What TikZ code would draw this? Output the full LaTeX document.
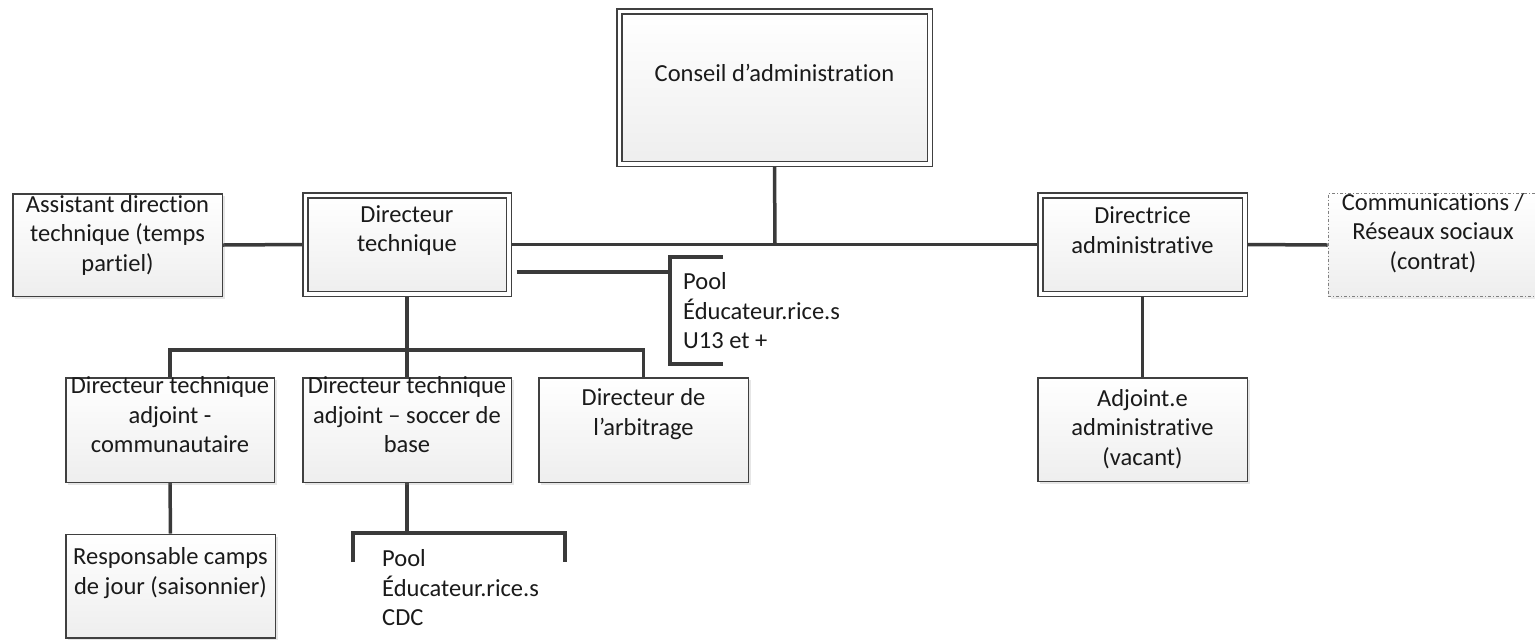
\documentclass[tikz,border=0pt]{standalone}
\usepackage{fontspec}
\setmainfont{Carlito}[Ligatures=NoCommon]
\usetikzlibrary{shadows,backgrounds}
\definecolor{bline}{HTML}{404040}
\definecolor{cline}{HTML}{3A3A3A}
\definecolor{boxbot}{HTML}{EEEEEE}
\definecolor{txtcol}{HTML}{1A1A1A}
\begin{document}
\begin{tikzpicture}[x=1pt,y=-1pt,
  box/.style={draw=bline, line width=1.5pt, top color=white, bottom color=boxbot, inner sep=0pt,
    drop shadow={shadow xshift=2.5pt, shadow yshift=-2.5pt, opacity=0.2}},
  dbox/.style={box, double=white, double distance=3.5pt},
  cbox/.style={draw=gray, line width=1pt, dash dot, top color=white, bottom color=boxbot, inner sep=0pt,
    drop shadow={shadow xshift=2.5pt, shadow yshift=-2.5pt, opacity=0.16}},
  lbl/.style={font=\fontsize{24.5}{29.5}\selectfont, align=center, inner sep=0pt, text=txtcol},
  lbll/.style={lbl, align=left, anchor=west},
  conn/.style={draw=cline, line width=3.5pt}
]
\useasboundingbox (0,0) rectangle (1535,641);

% boxes
\node[dbox, minimum width=310.5pt, minimum height=152.5pt] (conseil) at (774.5,87.5) {};
\node[box, minimum width=209.5pt, minimum height=102.5pt] (asst) at (117.5,245) {};
\node[dbox, minimum width=203.5pt, minimum height=98.5pt] (dt) at (407,244.5) {};
\node[dbox, minimum width=204.5pt, minimum height=98.5pt] (dir) at (1142.5,244.5) {};
\node[cbox, minimum width=212pt, minimum height=103pt] (comm) at (1434,245) {};
\node[box, minimum width=208.5pt, minimum height=104.5pt] (dta1) at (170,430) {};
\node[box, minimum width=208.5pt, minimum height=104.5pt] (dta2) at (407,430) {};
\node[box, minimum width=209.5pt, minimum height=104.5pt] (arb) at (643.5,430) {};
\node[box, minimum width=209.5pt, minimum height=103.5pt] (adj) at (1142.5,429.5) {};
\node[box, minimum width=209.5pt, minimum height=103.5pt] (resp) at (170.5,586) {};

% texts
\node[lbl] (tconseil) at (774.5,73) {Conseil d’administration};
\node[lbl] (tasst) at (117.5,235) {Assistant direction\\technique (temps\\partiel)};
\node[lbl] (tdt) at (407,230.5) {Directeur\\technique};
\node[lbl] (tdir) at (1142.5,230) {Directrice\\administrative};
\node[lbl] (tcomm) at (1433,233) {Communications /\\Réseaux sociaux\\(contrat)};
\node[lbl] (tdta1) at (170,415) {Directeur technique\\adjoint -\\communautaire};
\node[lbl] (tdta2) at (407,415) {Directeur technique\\adjoint – soccer de\\base};
\node[lbl] (tarb) at (643.5,414) {Directeur de\\l’arbitrage};
\node[lbl] (tadj) at (1142.5,429) {Adjoint.e\\administrative\\(vacant)};
\node[lbl] (tresp) at (170.5,573) {Responsable camps\\de jour (saisonnier)};
\node[lbll] (tpool1) at (683,311) {Pool\\Éducateur.rice.s\\U13 et +};
\node[lbll] (tpool2) at (382,588) {Pool\\Éducateur.rice.s\\CDC};

% connector coordinates
\coordinate (mainy) at (775,244);
\coordinate (bus) at (407,350);
\coordinate (p1v) at (670,272);
\coordinate (p1t) at (670,257);
\coordinate (p1b) at (670,364);
\coordinate (p1te) at (723,257);
\coordinate (p1be) at (723,364);
\coordinate (p2bus) at (407,533);
\coordinate (p2l) at (353,533);
\coordinate (p2r) at (565,533);
\coordinate (p2le) at (353,562);
\coordinate (p2re) at (565,562);

\begin{scope}[on background layer]
\draw[conn] (conseil.south) -- (mainy);
\draw[conn] (dt.east) -- (dir.west);
\draw[conn] (asst.east) -- (dt.west);
\draw[conn] (dir.east) -- (comm.west);
\draw[conn] ([xshift=7pt]dt.east |- p1v) -- (p1v);
\draw[conn] (p1te) -- (p1t) -- (p1b) -- (p1be);
\draw[conn] (dt.south) -- (bus);
\draw[conn] (dta1.north) -- (dta1.north |- bus) -- (arb.north |- bus) -- (arb.north);
\draw[conn] (bus) -- (dta2.north);
\draw[conn] (dta1.south) -- (resp.north);
\draw[conn] (dta2.south) -- (p2bus);
\draw[conn] (p2le) -- (p2l) -- (p2r) -- (p2re);
\draw[conn] (dir.south) -- (adj.north);
\end{scope}
\end{tikzpicture}
\end{document}
